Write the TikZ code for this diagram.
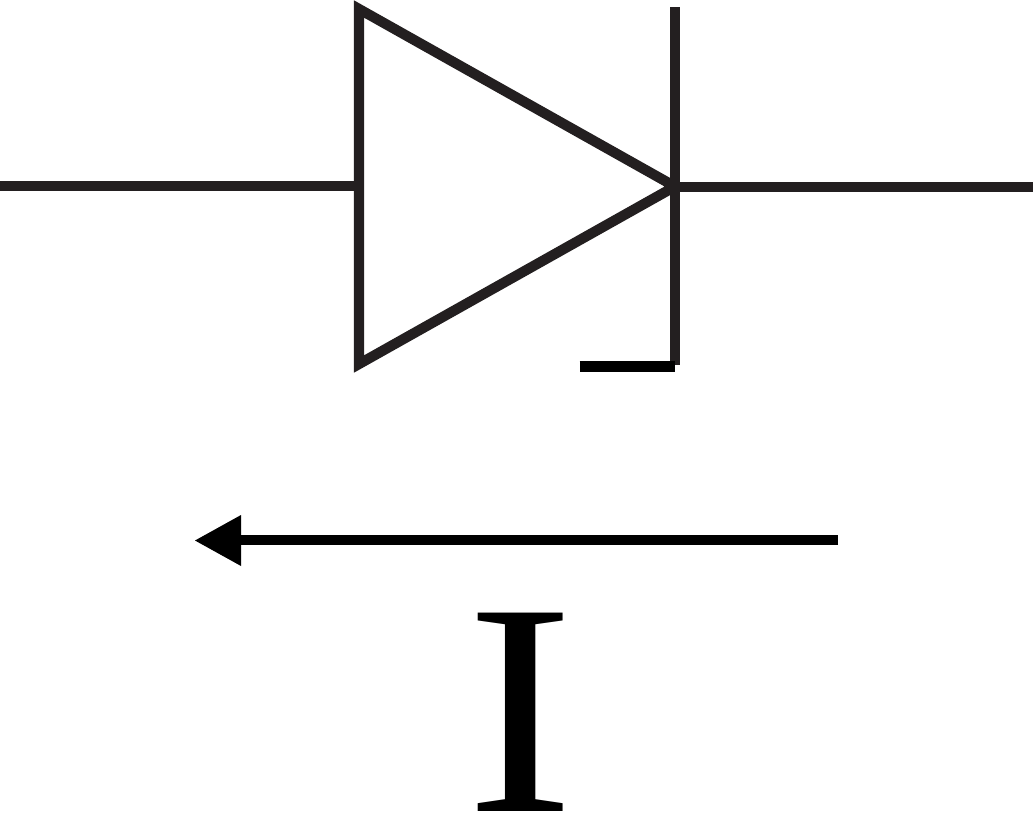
\documentclass[tikz,border=0pt]{standalone}
\usepackage{fontspec}
\setmainfont{Liberation Serif}
\definecolor{ink}{HTML}{231F20}
\tikzset{wire/.style={draw=ink,line width=10pt,line cap=butt},
  body/.style={draw=ink,line width=10.2pt,line join=miter,miter limit=10},
  tiphead/.style={fill=black,draw=none}}
\begin{document}
\begin{tikzpicture}[x=1pt,y=-1pt]
\useasboundingbox (0,0) rectangle (1033,812);
\coordinate (inL) at (0,185.5);
\coordinate (triA) at (359,9);
\coordinate (triB) at (359,364);
\coordinate (triC) at (675,186.5);
\coordinate (barT) at (674.8,7);
\coordinate (barB) at (674.8,365);
\coordinate (hookL) at (579.5,366.3);
\coordinate (hookR) at (675,366.3);
\coordinate (outR) at (1033,187.3);
\coordinate (arrS) at (838,540);
\coordinate (arrE) at (236,540);
\draw[wire] (inL) -- (triA |- inL);
\draw[body] (triA) -- (triB) -- (triC) -- cycle;
\draw[wire] (barT) -- (barB);
\draw[wire,draw=black,line width=10.5pt] (hookL) -- (hookR);
\draw[wire] (barT |- outR) -- (outR);
\draw[wire,draw=black] (arrS) -- (arrE);
\fill[tiphead] (195,540.5) -- (241,515) -- (241,566) -- cycle;
\node[inner sep=0pt,text=black,font=\fontsize{303}{303}\selectfont] (cur) at (520.2,712) {\scalebox{1.07}[1]{I}};
\end{tikzpicture}
\end{document}
